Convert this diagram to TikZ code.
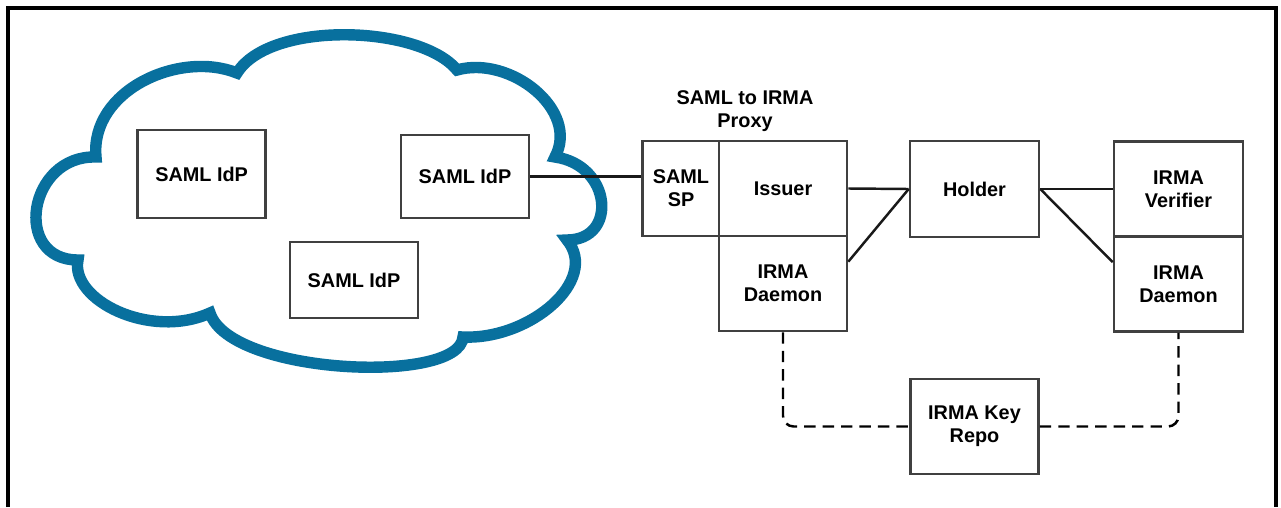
\documentclass[tikz,border=0pt]{standalone}
\usepackage{fontspec}
\setmainfont{Liberation Sans}
\usepackage{xcolor}
\usepackage{tikz}
\usetikzlibrary{calc}
\definecolor{cloudblue}{RGB}{8,112,158}
\tikzset{
    box/.style={draw=black!75,line width=1.5pt,fill=white,inner sep=0pt,align=center,
        font=\fontsize{11.3}{13.2}\selectfont\bfseries},
    link/.style={draw=black!90,line width=1.4pt},
    keylink/.style={draw=black,line width=1.4pt,dash pattern=on 6.5pt off 4pt,rounded corners=6pt}
}

\begin{document}
\begin{tikzpicture}[x=0.02cm,y=-0.02cm]
    \useasboundingbox (0,0) rectangle (1281,507);
    \draw[line width=1.9pt] (8,507) -- (8,8) -- (1276,8) -- (1276,507);
    \draw[draw=cloudblue,line width=6.5pt,fill=white] (237,73)
        .. controls (180,50) and (90,90) .. (96,157)
        .. controls (28,155) and (12,260) .. (78,260)
        .. controls (70,300) and (150,340) .. (210,313)
        .. controls (230,375) and (460,385) .. (463,337)
        .. controls (530,340) and (600,280) .. (567,240)
        .. controls (618,240) and (612,165) .. (555,157)
        .. controls (580,110) and (510,55) .. (457,70)
        .. controls (420,25) and (270,20) .. (237,73) -- cycle;
    \node[box,minimum width=2.56cm,minimum height=1.76cm] (idpa) at (201.6,174) {SAML IdP};
    \node[box,minimum width=2.56cm,minimum height=1.66cm] (idpb) at (465,176.5) {SAML IdP};
    \node[box,minimum width=2.56cm,minimum height=1.52cm] (idpc) at (354,280) {SAML IdP};
    \node[align=center,font=\fontsize{11.3}{13.2}\selectfont\bfseries] (proxy) at (745,111) {SAML to IRMA\\Proxy};
    \node[box,minimum width=1.54cm,minimum height=1.9cm] (sp) at (681,188.5) {SAML\\SP};
    \node[box,minimum width=2.56cm,minimum height=1.9cm] (issuer) at (783,188.5) {Issuer};
    \node[box,minimum width=2.56cm,minimum height=1.9cm] (dmnl) at (783,283.5) {IRMA\\Daemon};
    \node[box,minimum width=2.58cm,minimum height=1.92cm] (holder) at (974.5,189) {Holder};
    \node[box,minimum width=2.58cm,minimum height=1.9cm] (verifier) at (1178.5,189) {IRMA\\Verifier};
    \node[box,minimum width=2.58cm,minimum height=1.9cm] (dmnr) at (1178.5,284) {IRMA\\Daemon};
    \node[box,minimum width=2.56cm,minimum height=1.9cm] (keyrepo) at (974.5,426.5) {IRMA Key\\Repo};
    \draw[link] (idpb.east) -- (idpb.east -| sp.west);
    \draw[link] (issuer.east) -- (holder.west);
    \draw[link] ($(dmnl.north east)+(0,27)$) -- (holder.west);
    \draw[link] (holder.east) -- (verifier.west);
    \draw[link] (holder.east) -- ($(dmnr.north west)+(0,27)$);
    \draw[keylink] (dmnl.south) |- (keyrepo.west);
    \draw[keylink] (keyrepo.east) -| (dmnr.south);
\end{tikzpicture}
\end{document}
